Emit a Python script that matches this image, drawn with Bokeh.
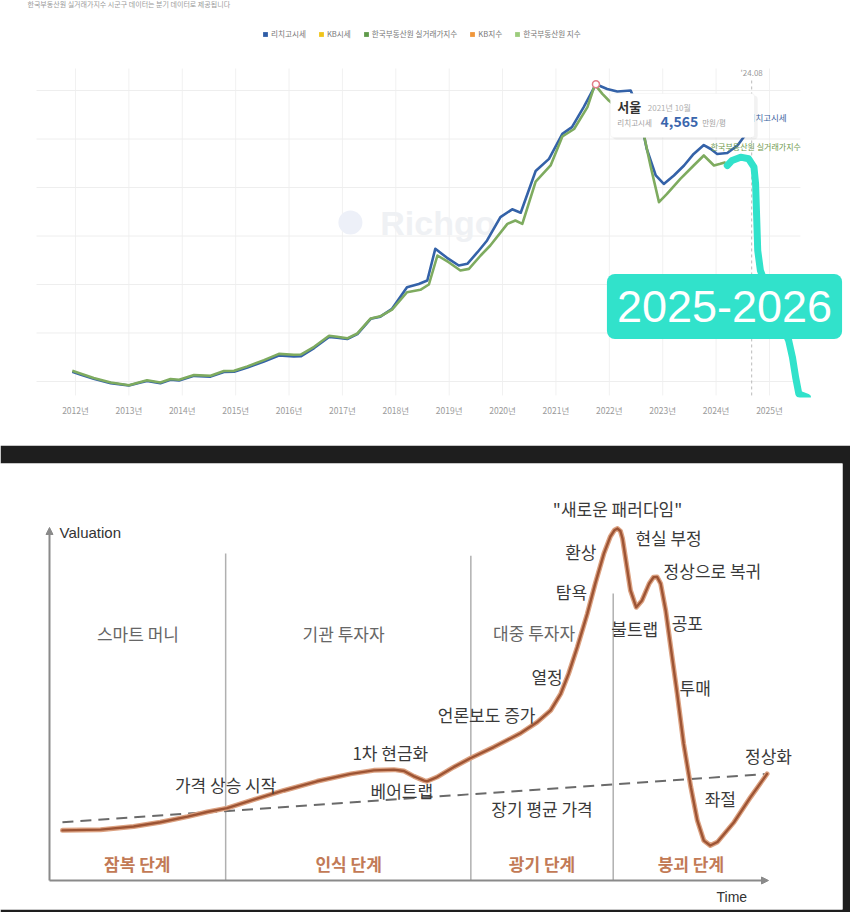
from bokeh.plotting import figure
from bokeh.models import (Range1d, FixedTicker, Label, BoxAnnotation, Legend,
                          LegendItem, Arrow, NormalHead)
from bokeh.layouts import column
from bokeh.embed import file_html
from bokeh.resources import INLINE
from bokeh.core.properties import value

KR = "Noto Sans CJK KR"

# ---------------- top chart data (서울, 만원/평) ----------------
richgo_year = [2011.94, 2012.09, 2012.34, 2012.66, 2013.00, 2013.22, 2013.34, 2013.59, 2013.78,
               2013.94, 2014.22, 2014.53, 2014.78, 2014.97, 2015.22, 2015.53, 2015.81, 2016.09,
               2016.22, 2016.47, 2016.75, 2016.90, 2017.09, 2017.28, 2017.53, 2017.71, 2017.93,
               2018.21, 2018.43, 2018.59, 2018.74, 2018.96, 2019.18, 2019.34, 2019.53, 2019.71,
               2019.96, 2020.18, 2020.34, 2020.62, 2020.87, 2021.12, 2021.30, 2021.52, 2021.75,
               2021.96, 2022.15, 2022.40, 2022.55, 2022.70, 2022.87, 2023.02, 2023.21, 2023.40,
               2023.58, 2023.77, 2023.90, 2024.02, 2024.21, 2024.40, 2024.60]
richgo_price = [1600, 1572, 1528, 1483, 1459, 1490, 1505, 1483, 1518,
                1510, 1558, 1550, 1598, 1600, 1643, 1706, 1768, 1758,
                1760, 1845, 1960, 1952, 1938, 1988, 2146, 2168, 2249,
                2472, 2505, 2541, 2868, 2775, 2696, 2713, 2833, 2954,
                3194, 3275, 3240, 3670, 3795, 4053, 4122, 4328, 4565,
                4516, 4490, 4500, 4300, 3900, 3624, 3537, 3624, 3727,
                3846, 3938, 3897, 3846, 3856, 3933, 4080]

reb_year = [2011.94, 2012.09, 2012.34, 2012.66, 2013.00, 2013.22, 2013.34, 2013.59, 2013.78,
            2013.94, 2014.22, 2014.53, 2014.78, 2014.97, 2015.22, 2015.53, 2015.81, 2016.09,
            2016.22, 2016.47, 2016.75, 2016.90, 2017.09, 2017.28, 2017.53, 2017.71, 2017.93,
            2018.21, 2018.46, 2018.62, 2018.78, 2018.99, 2019.21, 2019.37, 2019.59, 2019.77,
            2020.09, 2020.24, 2020.37, 2020.62, 2020.90, 2021.12, 2021.34, 2021.59, 2021.73,
            2021.87, 2021.99, 2022.20, 2022.45, 2022.65, 2022.77, 2022.93, 2023.08, 2023.33,
            2023.58, 2023.77, 2023.96, 2024.08, 2024.18]
reb_index = [1610, 1582, 1535, 1490, 1462, 1495, 1512, 1490, 1525,
             1518, 1566, 1560, 1608, 1610, 1656, 1720, 1785, 1775,
             1778, 1858, 1972, 1962, 1945, 1995, 2150, 2172, 2240,
             2420, 2445, 2500, 2799, 2730, 2644, 2661, 2799, 2902,
             3125, 3160, 3125, 3560, 3727, 4026, 4103, 4328, 4560,
             4465, 4397, 4300, 4250, 4036, 3727, 3349, 3434, 3589,
             3727, 3830, 3727, 3744, 3761]

forecast_year = [2024.21, 2024.30, 2024.46, 2024.61, 2024.71, 2024.74, 2024.76, 2024.78,
                 2024.83, 2025.11, 2025.36, 2025.43, 2025.49, 2025.55, 2025.71]
forecast_price = [3727, 3779, 3813, 3796, 3709, 3538, 3194, 2851,
                  2644, 2232, 1923, 1751, 1544, 1372, 1338]

tick_years = [2012, 2013, 2014, 2015, 2016, 2017, 2018, 2019, 2020, 2021, 2022, 2023, 2024, 2025]
tick_labels = ["2012년", "2013년", "2014년", "2015년", "2016년", "2017년", "2018년",
               "2019년", "2020년", "2021년", "2022년", "2023년", "2024년", "2025년"]
value_grid = [1500, 2000, 2500, 3000, 3500, 4000, 4500]

legend_labels = ["리치고시세", "KB시세", "한국부동산원 실거래가지수", "KB지수", "한국부동산원 지수"]
legend_colors = ["#2f5da6", "#f0c419", "#5f9a4a", "#f0963a", "#9ccc7c"]

peak_year, peak_price = 2021.75, 4565
cutoff_year = 2024 + 8 / 12
forecast_label = "2025-2026"

BLUE = "#3462a8"
GREEN = "#7eab5f"
CYAN = "#31e2cb"

# ---------------- top figure ----------------
p1 = figure(width=850, height=445, x_range=Range1d(2010.595, 2026.368),
            y_range=Range1d(1335, 5428), output_backend="svg", toolbar_location=None,
            y_axis_location=None, min_border=0, min_border_bottom=48, min_border_right=8,
            background_fill_color="white", border_fill_color="white")
p1.outline_line_color = None
p1.grid.visible = False
ax = p1.xaxis[0]
ax.ticker = FixedTicker(ticks=tick_years)
ax.major_label_overrides = {y: l for y, l in zip(tick_years, tick_labels)}
ax.axis_line_color = None
ax.major_tick_line_color = None
ax.minor_tick_line_color = None
ax.major_label_text_font_size = "8.5px"
ax.major_label_text_color = "#9a9a9a"
ax.major_label_text_font = KR
ax.major_label_standoff = 0

grid_lo, grid_hi = 1356, 4727
p1.segment(x0=tick_years, x1=tick_years, y0=[grid_lo] * len(tick_years),
           y1=[grid_hi] * len(tick_years), line_color="#f1f1f1", line_width=1)
p1.segment(x0=[2011.27] * len(value_grid), x1=[2025.58] * len(value_grid),
           y0=value_grid, y1=value_grid, line_color="#eeeeee", line_width=1)

# watermark
p1.scatter(x=[2017.15], y=[3139], size=24, marker="circle", fill_color="#edf0f8",
           line_color=None)
p1.text(x=[2017.71], y=[3139], text=["Richgo"], text_font=value("Liberation Sans"),
        text_font_size="34px", text_font_style="bold", text_color="#eff1f4",
        text_baseline="middle")

# cutoff line
p1.segment(x0=[cutoff_year], x1=[cutoff_year], y0=[grid_lo], y1=[4603],
           line_color="#bbbbbb", line_dash="3 3", line_width=1)
p1.text(x=[cutoff_year], y=[4686], text=["'24.08"], text_font=value(KR),
        text_font_size="8px", text_color="#999999", text_align="center",
        text_baseline="middle")

# series
p1.line(richgo_year, richgo_price, line_color=BLUE, line_width=2.6, line_join="round")
p1.line(reb_year, reb_index, line_color=GREEN, line_width=2.6, line_join="round")
p1.scatter(x=[peak_year], y=[peak_price], size=7, marker="circle", fill_color="white",
           line_color="#e27d88", line_width=1.5)

p1.text(x=[2024.59], y=[4222], text=["리치고시세"], text_font=value(KR),
        text_font_size="8.5px", text_color="#3a5fa0", text_baseline="middle")
p1.text(x=[2023.90], y=[3923], text=["한국부동산원 실거래가지수"], text_font=value(KR),
        text_font_size="8px", text_color="#6f9a4e", text_baseline="middle")

# hand drawn forecast
p1.line(forecast_year, forecast_price, line_color=CYAN, line_width=7,
        line_cap="round", line_join="round")

# tooltip
p1.add_layout(BoxAnnotation(left=2022.06, right=2024.78, bottom=3995, top=4448,
                            fill_color="black", fill_alpha=0.05, line_color=None,
                            border_radius=4))
p1.add_layout(BoxAnnotation(left=2022.02, right=2024.72, bottom=4016, top=4469,
                            fill_color="white", fill_alpha=1, line_color="#e3e3e3",
                            line_width=1, border_radius=3))
for x, y, t, size, col, style in [
        (2022.15, 4335, "서울", "13px", "#333333", "bold"),
        (2022.72, 4325, "2021년 10월", "8px", "#b0b0b0", "normal"),
        (2022.15, 4170, "리치고시세", "7.5px", "#a0a0a0", "normal"),
        (2022.96, 4181, "4,565", "14px", "#3a66ad", "bold"),
        (2023.74, 4170, "만원/평", "7.5px", "#a0a0a0", "normal")]:
    p1.add_layout(Label(x=x, y=y, text=t, text_font=KR, text_font_size=size,
                        text_color=col, text_font_style=style, text_baseline="middle"))

p1.add_layout(Label(x=2024.158, y=2273, text=forecast_label, text_font="Liberation Sans",
                    text_font_size="45px", text_color="white", text_align="center",
                    text_baseline="middle", background_fill_color=CYAN,
                    background_fill_alpha=1, border_radius=8,
                    padding=dict(left=10, right=10, top=17, bottom=17)))

# legend (swatches only)
items = []
for lbl, col in zip(legend_labels, legend_colors):
    r = p1.quad(left=[0], right=[0], top=[0], bottom=[0], fill_color=col, line_color=None)
    r.visible = False
    items.append(LegendItem(label=lbl, renderers=[r]))
legend = Legend(items=items, orientation="horizontal", location=(262, 358),
                glyph_width=6, glyph_height=6, label_text_font_size="7.6px",
                label_text_font=KR, label_text_color="#777777", label_height=8,
                label_standoff=3, spacing=12, padding=0, margin=0,
                border_line_color=None, background_fill_alpha=0)
p1.add_layout(legend)

p1.add_layout(Label(x=2011.10, y=5397, text="한국부동산원 실거래가지수 시군구 데이터는 분기 데이터로 제공됩니다",
                    text_font=KR, text_font_size="7px", text_color="#9a9a9a",
                    text_baseline="middle"))

# ---------------- bottom chart data (bubble stages) ----------------
curve_t = [1.8, 7.1, 11.7, 15.4, 19.2, 21.9, 24.7, 28.4, 32.6, 37.2, 41.9, 45.1, 47.9,
           49.3, 50.7, 52.1, 52.5, 53.9, 56.2, 58.6, 61.8, 65.5, 67.8, 69.7, 71.1, 72.2,
           73.4, 74.8, 75.9, 77.1, 78.0, 78.6, 79.0, 79.4, 79.7, 80.1, 80.8, 81.6, 82.4,
           83.4, 84.0, 84.5, 85.0, 85.7, 86.4, 87.3, 88.2, 89.2, 90.1, 91.0, 91.9, 92.9,
           95.2, 97.5, 99.8]
curve_v = [14.2, 14.4, 15.3, 16.5, 18.1, 19.4, 20.5, 22.9, 25.5, 28.1, 30.2, 31.2, 31.4,
           31.0, 29.5, 28.3, 28.1, 29.3, 32.1, 34.7, 37.8, 41.7, 44.8, 48.2, 52.9, 58.6,
           66.1, 75.6, 84.1, 92.6, 97.4, 99.3, 99.7, 99.0, 96.8, 91.5, 82.2, 77.4, 79.3,
           84.1, 85.9, 86.0, 84.1, 76.5, 66.1, 52.9, 38.7, 26.4, 17.0, 11.3, 9.9, 10.9,
           16.5, 23.6, 30.2]
average_t = [1.8, 99.8]
average_v = [16.5, 30.2]

stage_bounds = [24.5, 58.6, 78.4]
stage_tops = [92.6, 92.0, 81.3]

investor_labels = ["스마트 머니", "기관 투자자", "대중 투자자"]
investor_t = [12.3, 40.9, 67.4]
investor_v = [70.1, 70.1, 70.3]

phase_labels = ["잠복 단계", "인식 단계", "광기 단계", "붕괴 단계"]
phase_t = [12.2, 41.6, 68.5, 89.2]
phase_v = [4.7, 4.7, 4.7, 4.7]

event_labels = ["가격 상승 시작", "1차 현금화", "베어트랩", "언론보도 증가", "열정", "탐욕",
                "환상", "\"새로운 패러다임\"", "현실 부정", "정상으로 복귀", "불트랩", "공포",
                "투매", "좌절", "정상화", "장기 평균 가격"]
event_t = [24.5, 47.4, 49.0, 60.8, 69.2, 72.6, 73.9, 79.0, 86.1, 92.2, 81.4, 88.7,
           89.8, 93.3, 100.0, 68.5]
event_v = [27.2, 36.3, 25.5, 47.0, 57.8, 82.0, 93.3, 105.3, 97.3, 87.8, 71.3, 73.2,
           54.8, 23.1, 35.4, 20.3]

# ---------------- bottom figure ----------------
p2 = figure(width=850, height=467, x_range=Range1d(-6.815, 110.29),
            y_range=Range1d(-8.22, 118.13), output_backend="svg", toolbar_location=None,
            x_axis_location=None, y_axis_location=None, min_border=0, min_border_top=18,
            min_border_bottom=3, min_border_right=8, background_fill_color="white",
            border_fill_color="#1e1e1e")
p2.outline_line_color = None
p2.grid.visible = False

p2.segment(x0=stage_bounds, x1=stage_bounds, y0=[0, 0, 0], y1=stage_tops,
           line_color="#b0b0b0", line_width=1.5)
p2.line(average_t, average_v, line_color="#6a6a6a", line_width=2, line_dash="11 7")
p2.line(curve_t, curve_v, line_color="#dca282", line_width=5, line_join="round",
        line_cap="round")
p2.line(curve_t, curve_v, line_color="#9d5434", line_width=2.4, line_join="round",
        line_cap="round")

for xs, ys, xe, ye in [(0, 0, 0, 100), (0, 0, 100, 0)]:
    p2.add_layout(Arrow(x_start=xs, y_start=ys, x_end=xe, y_end=ye, line_color="#8a8a8a",
                        line_width=2,
                        end=NormalHead(size=7, fill_color="#8a8a8a", line_color="#8a8a8a")))

p2.text(x=investor_t, y=investor_v, text=investor_labels, text_font=value(KR),
        text_font_size="17px", text_color="#666666", text_align="center",
        text_baseline="middle")
p2.text(x=phase_t, y=phase_v, text=phase_labels, text_font=value(KR),
        text_font_size="17px", text_font_style="bold", text_color="#c27a56",
        text_align="center", text_baseline="middle")
p2.text(x=event_t, y=event_v, text=event_labels, text_font=value(KR),
        text_font_size="17px", text_color="#3a3a3a", text_align="center",
        text_baseline="middle")
p2.text(x=[1.4], y=[98.6], text=["Valuation"], text_font=value("Liberation Sans"),
        text_font_size="15px", text_color="#333333", text_baseline="middle")
p2.text(x=[94.9], y=[-4.7], text=["Time"], text_font=value("Liberation Sans"),
        text_font_size="14px", text_color="#333333", text_align="center",
        text_baseline="middle")

layout = column(p1, p2, spacing=0)
open("out.html", "w").write(file_html(layout, INLINE))
